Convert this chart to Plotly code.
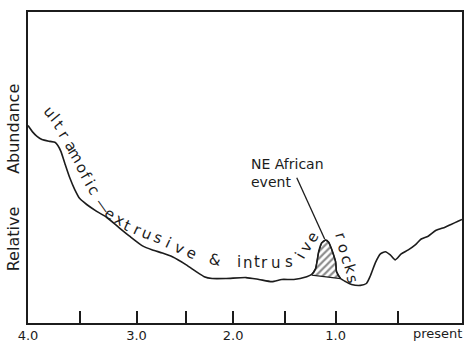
import plotly.graph_objects as go

# ---- data (age in Ga before present, relative abundance 0-100) ----
age = [4.00, 3.954, 3.917, 3.872, 3.798, 3.752, 3.725, 3.697, 3.661, 3.615,
       3.569, 3.523, 3.459, 3.367, 3.275, 3.156, 3.064, 2.945, 2.853, 2.761,
       2.670, 2.541, 2.450, 2.376, 2.303, 2.174, 1.991, 1.872, 1.752, 1.661,
       1.550, 1.431, 1.385, 1.349, 1.321, 1.294, 1.257, 1.229, 1.202, 1.165,
       1.156, 1.119, 1.073, 1.018, 0.936, 0.881, 0.844, 0.798, 0.752, 0.706,
       0.661, 0.615, 0.560, 0.495, 0.431, 0.376, 0.312, 0.239, 0.156, 0.101,
       0.037, 0.000]
abundance = [63.5, 61.3, 60.0, 59.0, 58.4, 58.1, 57.1, 55.2, 51.4, 46.7,
             42.9, 40.0, 38.1, 35.9, 34.0, 30.5, 27.9, 24.8, 23.5, 22.5,
             21.3, 18.7, 16.5, 14.9, 14.3, 14.3, 14.6, 14.0, 13.3, 14.0,
             14.0, 14.9, 15.6, 17.5, 22.9, 25.7, 26.7, 26.0, 23.8, 19.7,
             16.5, 14.3, 13.3, 12.4, 12.1, 12.7, 15.2, 19.4, 22.2, 22.9,
             21.9, 20.3, 22.2, 23.5, 25.1, 27.0, 27.9, 29.8, 30.8, 31.7,
             32.7, 33.3]

# NE African event (hatched pulse) and its base
event_age = [1.385, 1.349, 1.321, 1.294, 1.257, 1.229, 1.202, 1.165, 1.156, 1.119, 1.119, 1.385]
event_abund = [15.6, 17.5, 22.9, 25.7, 26.7, 26.0, 23.8, 19.7, 16.5, 14.3, 14.3, 15.4]

tick_vals = [4.0, 3.523, 3.0, 2.541, 2.110, 1.633, 1.165, 0.587, 0.0]
tick_text = ["4.0", "", "3.0", "", "2.0", "", "1.0", "", ""]

# curve label, letter by letter: (char, age, abundance, angle)
curve_letters = [
    ("u", 3.798, 67.9, 50), ("l", 3.752, 66.0, 50), ("t", 3.716, 63.8, 52),
    ("r", 3.670, 60.3, 57), ("a", 3.606, 56.8, 57), ("m", 3.560, 53.7, 58),
    ("o", 3.505, 49.8, 60), ("f", 3.468, 47.3, 60), ("i", 3.431, 45.1, 60),
    ("c", 3.394, 42.9, 60), ("\u2014", 3.312, 37.5, 55),
    ("e", 3.248, 34.9, 30), ("x", 3.156, 33.0, 30), ("t", 3.083, 31.1, 25),
    ("r", 2.991, 29.8, 25), ("u", 2.899, 28.6, 22), ("s", 2.798, 27.3, 22),
    ("i", 2.706, 25.7, 25), ("v", 2.606, 24.1, 25), ("e", 2.495, 22.5, 25),
    ("&", 2.275, 20.3, 10),
    ("i", 2.055, 19.5, 0), ("n", 1.972, 19.3, 0), ("t", 1.890, 19.5, 0),
    ("r", 1.817, 19.3, 0), ("u", 1.716, 19.3, 0), ("s", 1.596, 19.5, 0),
    ("i", 1.495, 21.6, -60), ("v", 1.436, 24.4, -60), ("e", 1.376, 27.6, -60),
    ("r", 1.119, 27.9, 73), ("o", 1.092, 24.1, 73), ("c", 1.064, 20.6, 73),
    ("k", 1.028, 17.5, 73), ("s", 1.009, 14.3, 73),
]

leader_age = [1.523, 1.266]
leader_abund = [46.7, 27.0]

INK = "#1c1c1c"
FONT = "DejaVu Sans"

fig = go.Figure()

fig.add_trace(go.Scatter(
    x=event_age, y=event_abund, mode="lines", fill="toself",
    line=dict(color=INK, width=1.2),
    fillcolor="white",
    fillpattern=dict(shape="/", fgcolor=INK, bgcolor="white", size=5, solidity=0.45),
    hoverinfo="skip", showlegend=False,
))

fig.add_trace(go.Scatter(
    x=age, y=abundance, mode="lines",
    line=dict(color=INK, width=1.6, shape="spline", smoothing=0.6),
    showlegend=False,
))

fig.add_trace(go.Scatter(
    x=leader_age, y=leader_abund, mode="lines",
    line=dict(color=INK, width=1.3), showlegend=False, hoverinfo="skip",
))

annotations = []
for ch, a, v, ang in curve_letters:
    annotations.append(dict(
        x=a, y=v, xref="x", yref="y", text=ch, showarrow=False,
        textangle=ang, xanchor="center", yanchor="middle",
        font=dict(family=FONT, size=15, color=INK),
    ))

annotations += [
    dict(x=1.963, y=48.1, xref="x", yref="y", text="NE African<br>event", showarrow=False,
         xanchor="left", yanchor="middle", align="left",
         font=dict(family=FONT, size=14, color=INK)),
    dict(x=-0.034, y=62.5, xref="paper", yref="y", text="Abundance", showarrow=False,
         textangle=-90, xanchor="center", yanchor="middle",
         font=dict(family=FONT, size=16, color=INK)),
    dict(x=-0.034, y=27.0, xref="paper", yref="y", text="Relative", showarrow=False,
         textangle=-90, xanchor="center", yanchor="middle",
         font=dict(family=FONT, size=16, color=INK)),
    dict(x=1.0046, y=-0.035, xref="paper", yref="paper", text="present", showarrow=False,
         xanchor="right", yanchor="middle", font=dict(family=FONT, size=13, color=INK)),
]

fig.update_layout(
    width=466, height=345,
    margin=dict(l=28, r=2, t=12, b=18),
    paper_bgcolor="white", plot_bgcolor="white",
    annotations=annotations,
    showlegend=False,
)
fig.update_xaxes(
    range=[4.0, 0.0], showgrid=False, zeroline=False,
    showline=True, mirror=True, linecolor=INK, linewidth=1.6,
    ticks="inside", ticklen=12, tickwidth=1.5, tickcolor=INK,
    tickmode="array", tickvals=tick_vals, ticktext=tick_text,
    tickfont=dict(family=FONT, size=13, color=INK),
)
fig.update_yaxes(
    range=[0, 100], showgrid=False, zeroline=False,
    showline=True, mirror=True, linecolor=INK, linewidth=1.6,
    ticks="", showticklabels=False,
)

fig.write_html("out.html")
